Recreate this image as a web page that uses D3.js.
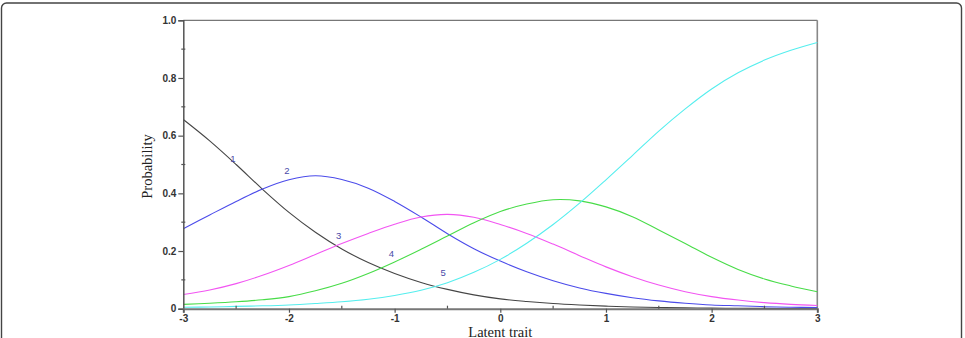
<!DOCTYPE html>
<html>
<head>
<meta charset="utf-8">
<script src="https://cdn.jsdelivr.net/npm/d3@7"></script>
<style>
html,body{margin:0;padding:0;background:#fff;}
svg{display:block;}
</style>
</head>
<body>
<svg id="chart" width="965" height="338"></svg>
<script>
// ---- data ----
const theta = [-3,-2.75,-2.5,-2.25,-2,-1.75,-1.5,-1.25,-1,-0.75,-0.5,-0.25,0,0.25,0.5,0.75,1,1.25,1.5,1.75,2,2.25,2.5,2.75,3];
const cat1 = [0.656,0.582,0.500,0.414,0.334,0.265,0.207,0.160,0.122,0.091,0.067,0.048,0.034,0.025,0.018,0.013,0.009,0.006,0.004,0.003,0.002,0.0015,0.001,0.0008,0.0005];
const cat2 = [0.277,0.325,0.372,0.415,0.447,0.461,0.448,0.418,0.372,0.318,0.260,0.208,0.165,0.128,0.097,0.072,0.053,0.038,0.027,0.019,0.013,0.010,0.007,0.005,0.004];
const cat3 = [0.049,0.065,0.087,0.116,0.150,0.188,0.226,0.261,0.293,0.318,0.327,0.317,0.292,0.261,0.224,0.184,0.145,0.111,0.082,0.059,0.042,0.030,0.021,0.015,0.011];
const cat4 = [0.015,0.019,0.024,0.031,0.042,0.062,0.088,0.122,0.162,0.206,0.252,0.298,0.337,0.363,0.378,0.374,0.353,0.319,0.273,0.226,0.178,0.136,0.103,0.079,0.059];
const cat5 = [0.005,0.006,0.008,0.010,0.013,0.018,0.024,0.033,0.046,0.064,0.090,0.126,0.171,0.227,0.292,0.366,0.447,0.531,0.616,0.693,0.762,0.818,0.862,0.896,0.923];
const seriesNames = ["1","2","3","4","5"];
const seriesColors = ["#454545","#4b4bea","#f255f2","#48dc48","#55eeee"];
const labelPos = [[-2.53,0.52],[-2.02,0.48],[-1.53,0.255],[-1.03,0.19],[-0.54,0.125]];
const xTicks = [-3,-2,-1,0,1,2,3];
const yTicks = [0,0.2,0.4,0.6,0.8,1.0];
const yTickLabels = ["0","0.2","0.4","0.6","0.8","1.0"];
const xTitle = "Latent trait";
const yTitle = "Probability";

const svg = d3.select("#chart");

// outer rounded frame
svg.append("rect").attr("x",1.5).attr("y",3).attr("width",960).attr("height",360)
  .attr("rx",5).attr("fill","none").attr("stroke","#444").attr("stroke-width",1.4);

const x = d3.scaleLinear().domain([-3,3]).range([183.3,817.3]);
const y = d3.scaleLinear().domain([0,1]).range([308.7,20.3]);

// box top/right
const g = svg.append("g");
g.append("line").attr("x1",x(-3)).attr("x2",x(3)).attr("y1",y(1)).attr("y2",y(1))
  .attr("stroke","#777").attr("stroke-width",1.2);
g.append("line").attr("x1",x(3)).attr("x2",x(3)).attr("y1",y(1)).attr("y2",y(0))
  .attr("stroke","#888").attr("stroke-width",1.6);

// curves
const all = [cat1,cat2,cat3,cat4,cat5];
const line = d3.line().x(d=>x(d[0])).y(d=>y(d[1])).curve(d3.curveCatmullRom.alpha(0.5));
all.forEach((s,i)=>{
  g.append("path").datum(theta.map((t,j)=>[t,s[j]]))
    .attr("d",line).attr("fill","none").attr("stroke",seriesColors[i]).attr("stroke-width",1.1);
});

// curve labels
labelPos.forEach((p,i)=>{
  g.append("text").attr("x",x(p[0])).attr("y",y(p[1])).attr("text-anchor","middle")
    .attr("dominant-baseline","central")
    .attr("font-family","Liberation Sans, Arial, sans-serif").attr("font-size",9.5)
    .attr("fill","#4a4aa8").text(seriesNames[i]);
});

// y axis
const yAxis = d3.axisLeft(y).tickValues(yTicks).tickSize(5).tickPadding(2)
  .tickFormat((d,i)=>yTickLabels[i]);
const ya = svg.append("g").attr("transform",`translate(${x(-3)},0)`).call(yAxis);
ya.select(".domain").attr("stroke","#555").attr("stroke-width",1.5);
ya.selectAll(".tick line").attr("stroke","#555").attr("stroke-width",1.2);
ya.selectAll(".tick text").attr("font-family","Liberation Sans, Arial, sans-serif")
  .attr("font-size",10).attr("font-weight","bold").attr("fill","#333");
// y minor ticks
const yMinor = d3.range(0.1,1,0.2);
svg.append("g").selectAll("line").data(yMinor).join("line")
  .attr("x1",x(-3)-2).attr("x2",x(-3)+2).attr("y1",d=>y(d)).attr("y2",d=>y(d))
  .attr("stroke","#555").attr("stroke-width",1.2);

// x axis
const xAxis = d3.axisBottom(x).tickValues(xTicks).tickSize(4).tickPadding(2)
  .tickFormat(d=>String(d));
const xa = svg.append("g").attr("transform",`translate(0,${y(0)})`).call(xAxis);
xa.select(".domain").attr("stroke","#777").attr("stroke-width",2);
xa.selectAll(".tick line").attr("stroke","#555").attr("stroke-width",1.2);
xa.selectAll(".tick text").attr("font-family","Liberation Sans, Arial, sans-serif")
  .attr("font-size",10).attr("font-weight","bold").attr("fill","#333");
const xMinor = d3.range(-2.5,3,1);
svg.append("g").selectAll("line").data(xMinor).join("line")
  .attr("x1",d=>x(d)).attr("x2",d=>x(d)).attr("y1",y(0)).attr("y2",y(0)-3)
  .attr("stroke","#555").attr("stroke-width",1.2);

// titles
svg.append("text").attr("x",(x(-3)+x(3))/2).attr("y",336.5).attr("text-anchor","middle")
  .attr("font-family","Liberation Serif, Times New Roman, serif").attr("font-size",14.5)
  .attr("fill","#222").text(xTitle);
svg.append("text").attr("transform",`translate(152,${y(0.5)+2}) rotate(-90)`)
  .attr("text-anchor","middle")
  .attr("font-family","Liberation Serif, Times New Roman, serif").attr("font-size",14.5)
  .attr("fill","#222").text(yTitle);
</script>
</body>
</html>
